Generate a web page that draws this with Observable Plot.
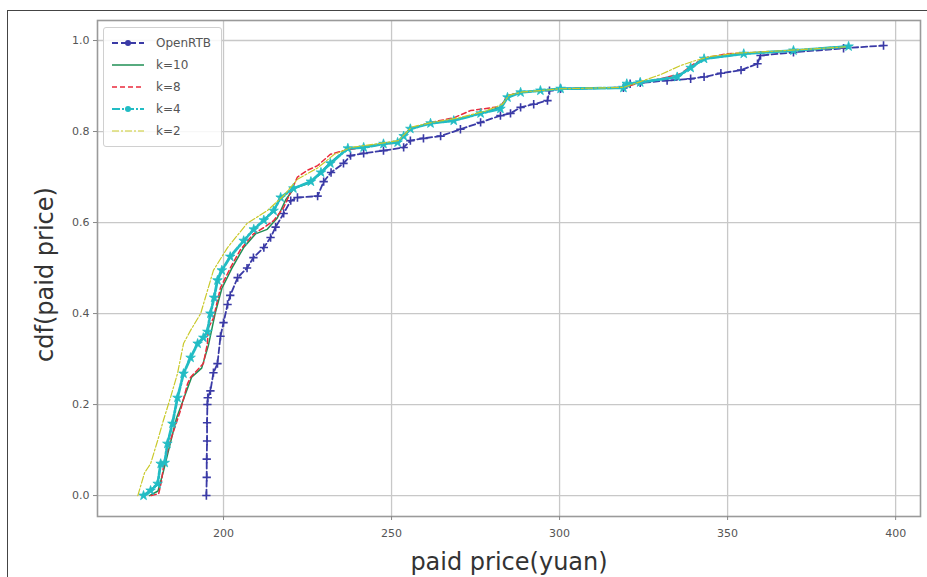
<!DOCTYPE html>
<html>
<head>
<meta charset="utf-8">
<script src="https://cdn.jsdelivr.net/npm/d3@7"></script>
<script src="https://cdn.jsdelivr.net/npm/@observablehq/plot@0.6"></script>
<style>
  html, body { margin: 0; padding: 0; background: #fff; }
  #wrap { position: relative; width: 927px; height: 577px; overflow: hidden; font-family: "DejaVu Sans", sans-serif; }
  #border { position: absolute; left: 7px; top: 10px; width: 919px; height: 580px; border: 1px solid #444; pointer-events: none; }
  #legend { position: absolute; left: 103px; top: 27px; background: rgba(255,255,255,0.85); border: 1px solid #d0d0d0; border-radius: 3px; padding: 4px 10px 4px 6px; font-size: 12px; color: #555; }
  .row { display: flex; align-items: center; height: 22px; }
  .row svg { margin-right: 10px; }
</style>
</head>
<body>
<div id="wrap"><div id="border"></div><div id="legend"></div></div>
<script>
// ---- data ----
const seriesNames = ["OpenRTB", "k=10", "k=8", "k=4", "k=2"];
const xTicks = [200, 250, 300, 350, 400];
const yTicks = [0, 0.2, 0.4, 0.6, 0.8, 1.0];

const openrtbPrice = [194.9, 195.0, 195.0, 195.1, 195.1, 195.2, 195.3, 196.1, 197.0, 198.2, 199.1, 200.0, 201.2, 202.0, 204.2, 207.0, 208.9, 212.0, 214.0, 215.5, 217.9, 220.0, 222.0, 228.0, 229.8, 232.0, 235.7, 237.8, 241.7, 247.6, 253.6, 255.6, 259.5, 264.6, 270.5, 276.5, 282.4, 285.4, 288.4, 292.3, 296.4, 297.0, 300.3, 319.0, 321.0, 324.0, 332.0, 339.0, 343.0, 348.0, 354.0, 358.9, 359.8, 369.6, 384.5, 396.4];
const openrtbCdf   = [0.0, 0.04, 0.08, 0.12, 0.16, 0.20, 0.215, 0.23, 0.27, 0.29, 0.35, 0.38, 0.42, 0.44, 0.479, 0.50, 0.523, 0.545, 0.567, 0.59, 0.62, 0.648, 0.655, 0.658, 0.69, 0.71, 0.73, 0.747, 0.752, 0.758, 0.765, 0.78, 0.785, 0.79, 0.805, 0.82, 0.835, 0.84, 0.853, 0.86, 0.868, 0.89, 0.894, 0.896, 0.905, 0.907, 0.912, 0.916, 0.92, 0.928, 0.935, 0.949, 0.967, 0.974, 0.983, 0.989];

const k10Price = [178.0, 180.5, 182.0, 184.0, 186.0, 188.5, 190.5, 193.5, 195.5, 197.5, 199.5, 202.5, 206.0, 209.5, 213.0, 216.0, 218.5, 221.0, 226.0, 231.8, 237.0, 241.7, 247.6, 251.8, 253.6, 255.6, 261.6, 268.5, 276.5, 282.4, 284.5, 288.4, 294.3, 300.3, 319.0, 323.0, 335.0, 339.0, 343.0, 354.8, 369.6, 384.5];
const k10Cdf   = [0.0, 0.01, 0.05, 0.11, 0.17, 0.22, 0.26, 0.28, 0.33, 0.40, 0.455, 0.50, 0.545, 0.575, 0.585, 0.61, 0.65, 0.675, 0.688, 0.732, 0.763, 0.765, 0.773, 0.776, 0.79, 0.806, 0.818, 0.824, 0.84, 0.853, 0.879, 0.886, 0.89, 0.894, 0.896, 0.908, 0.92, 0.94, 0.96, 0.971, 0.978, 0.987];

const k8Price = [178.5, 180.7, 181.5, 182.1, 184.2, 185.5, 187.2, 189.3, 190.2, 194.0, 195.2, 195.5, 197.0, 199.1, 200.0, 202.0, 205.0, 208.9, 212.0, 214.9, 217.9, 222.0, 225.0, 228.0, 231.8, 235.7, 241.7, 247.6, 251.8, 253.6, 255.6, 261.6, 268.5, 273.5, 282.4, 284.5, 288.4, 294.3, 300.3, 319.0, 323.0, 330.0, 336.0, 340.0, 344.0, 350.0, 359.8, 369.6, 385.7];
const k8Cdf   = [0.0, 0.004, 0.03, 0.062, 0.121, 0.15, 0.187, 0.246, 0.26, 0.29, 0.334, 0.369, 0.39, 0.457, 0.47, 0.50, 0.54, 0.575, 0.589, 0.604, 0.633, 0.70, 0.715, 0.725, 0.75, 0.758, 0.765, 0.772, 0.776, 0.79, 0.806, 0.82, 0.83, 0.846, 0.855, 0.879, 0.886, 0.89, 0.894, 0.897, 0.905, 0.916, 0.927, 0.949, 0.963, 0.971, 0.974, 0.978, 0.985];

const k4Price = [176.2, 178.3, 180.4, 181.3, 182.5, 183.3, 184.8, 186.3, 188.1, 190.2, 192.3, 194.0, 195.2, 196.1, 197.2, 198.2, 199.5, 202.0, 206.0, 209.0, 212.0, 214.9, 217.0, 220.8, 226.0, 229.0, 231.8, 237.0, 241.7, 247.6, 251.8, 253.6, 255.6, 261.6, 268.5, 276.5, 282.4, 284.5, 288.4, 294.3, 300.3, 319.0, 320.0, 324.0, 335.0, 339.0, 343.0, 354.8, 369.6, 386.0];
const k4Cdf   = [0.0, 0.011, 0.026, 0.07, 0.072, 0.114, 0.158, 0.215, 0.268, 0.303, 0.334, 0.347, 0.36, 0.40, 0.435, 0.473, 0.495, 0.525, 0.56, 0.585, 0.605, 0.626, 0.655, 0.675, 0.69, 0.71, 0.73, 0.763, 0.765, 0.773, 0.776, 0.79, 0.806, 0.818, 0.824, 0.84, 0.85, 0.875, 0.886, 0.89, 0.894, 0.896, 0.905, 0.908, 0.92, 0.94, 0.96, 0.971, 0.978, 0.987];

const k2Price = [174.5, 176.5, 177.4, 178.3, 180.4, 182.1, 184.2, 186.3, 188.1, 190.2, 193.2, 197.0, 201.2, 207.0, 213.0, 218.0, 222.0, 228.0, 233.0, 238.0, 247.6, 252.0, 254.0, 256.0, 262.0, 270.0, 278.0, 283.0, 285.0, 289.0, 294.3, 300.3, 319.0, 323.0, 330.0, 336.0, 340.0, 345.0, 352.0, 365.0, 385.0];
const k2Cdf   = [0.0, 0.05, 0.06, 0.07, 0.121, 0.165, 0.215, 0.268, 0.334, 0.363, 0.40, 0.495, 0.545, 0.598, 0.626, 0.66, 0.695, 0.72, 0.75, 0.765, 0.775, 0.78, 0.795, 0.81, 0.82, 0.83, 0.845, 0.86, 0.88, 0.887, 0.89, 0.894, 0.897, 0.907, 0.925, 0.945, 0.955, 0.965, 0.972, 0.977, 0.986];

// ---- styles ----
const styles = {
  "OpenRTB": {stroke: "#3a3aa6", strokeWidth: 1.8, dash: "6,3"},
  "k=10":    {stroke: "#1f8f55", strokeWidth: 1.5, dash: null},
  "k=8":     {stroke: "#ea2a3c", strokeWidth: 1.5, dash: "5,3"},
  "k=4":     {stroke: "#22bcc4", strokeWidth: 2.8, dash: "8,2,2,2"},
  "k=2":     {stroke: "#c9c92a", strokeWidth: 1.2, dash: "7,2,2,2"}
};

const toRows = (name, xs, ys) => xs.map((x, i) => ({series: name, price: x, cdf: ys[i]}));
const rows = {
  "OpenRTB": toRows("OpenRTB", openrtbPrice, openrtbCdf),
  "k=10": toRows("k=10", k10Price, k10Cdf),
  "k=8": toRows("k=8", k8Price, k8Cdf),
  "k=4": toRows("k=4", k4Price, k4Cdf),
  "k=2": toRows("k=2", k2Price, k2Cdf)
};

const lineMarks = [];
for (const name of seriesNames) {
  const s = styles[name];
  lineMarks.push(Plot.line(rows[name], {x: "price", y: "cdf", stroke: s.stroke, strokeWidth: s.strokeWidth, strokeDasharray: s.dash || undefined}));
  if (name === "OpenRTB") {
    lineMarks.push(Plot.dot(rows[name], {x: "price", y: "cdf", symbol: "plus", r: 2.8, stroke: s.stroke, strokeWidth: 1.6}));
  }
  if (name === "k=4") {
    lineMarks.push(Plot.dot(rows[name], {x: "price", y: "cdf", symbol: "star", r: 3, fill: s.stroke, stroke: s.stroke, strokeWidth: 0.8}));
  }
}

const chart = Plot.plot({
  width: 927,
  height: 577,
  marginLeft: 97,
  marginRight: 7,
  marginTop: 20,
  marginBottom: 61,
  x: {domain: [162.5, 407.4]},
  y: {domain: [-0.046, 1.044]},
  style: {fontFamily: "DejaVu Sans, sans-serif", fontSize: "11px", color: "#555", background: "transparent"},
  marks: [
    Plot.gridX(xTicks, {stroke: "#c8c8c8", strokeOpacity: 1, strokeWidth: 1.3}),
    Plot.gridY(yTicks, {stroke: "#c8c8c8", strokeOpacity: 1, strokeWidth: 1.3}),
    Plot.frame({stroke: "#9a9a9a", strokeWidth: 1.6}),
    Plot.axisX(xTicks, {tickSize: 4, tickPadding: 9, label: null, stroke: "#888", fill: "#555"}),
    Plot.axisY(yTicks, {tickSize: 4, tickPadding: 4, tickFormat: d3.format(".1f"), label: null, stroke: "#888", fill: "#555"}),
    ...lineMarks,
    Plot.text(["paid price(yuan)"], {text: d => d, frameAnchor: "bottom", lineAnchor: "middle", textAnchor: "middle", dy: 46, fontSize: 24, fill: "#333"}),
    Plot.text(["cdf(paid price)"], {text: d => d, frameAnchor: "left", lineAnchor: "middle", textAnchor: "middle", rotate: -90, dx: -52, dy: 6, fontSize: 24, fill: "#333"})
  ]
});
document.getElementById("wrap").prepend(chart);

// ---- legend (HTML overlay inside the axes, like the reference) ----
const legend = document.getElementById("legend");
for (const name of seriesNames) {
  const s = styles[name];
  const row = document.createElement("div");
  row.className = "row";
  const ns = "http://www.w3.org/2000/svg";
  const svg = document.createElementNS(ns, "svg");
  svg.setAttribute("width", 36); svg.setAttribute("height", 12);
  const ln = document.createElementNS(ns, "line");
  ln.setAttribute("x1", 2); ln.setAttribute("x2", 34); ln.setAttribute("y1", 6); ln.setAttribute("y2", 6);
  ln.setAttribute("stroke", s.stroke); ln.setAttribute("stroke-width", Math.min(s.strokeWidth, 2));
  if (s.dash) ln.setAttribute("stroke-dasharray", s.dash);
  svg.appendChild(ln);
  if (name === "OpenRTB" || name === "k=4") {
    const c = document.createElementNS(ns, "circle");
    c.setAttribute("cx", 18); c.setAttribute("cy", 6); c.setAttribute("r", 3);
    c.setAttribute("fill", s.stroke);
    svg.appendChild(c);
  }
  row.appendChild(svg);
  const t = document.createElement("span");
  t.textContent = name;
  row.appendChild(t);
  legend.appendChild(row);
}
</script>
</body>
</html>
